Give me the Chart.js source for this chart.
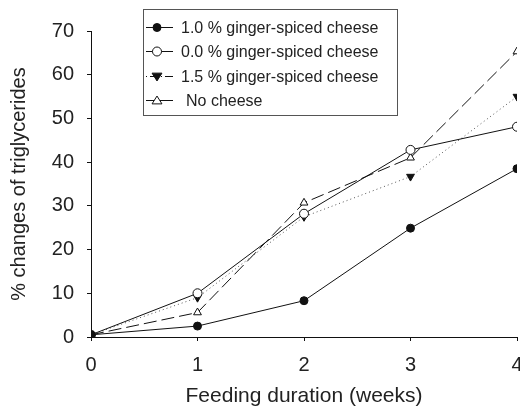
<!DOCTYPE html>
<html>
<head>
<meta charset="utf-8">
<script src="https://cdn.jsdelivr.net/npm/chart.js@4"></script>
<style>
  html, body { margin: 0; padding: 0; background: #fff; }
  #wrap { width: 520px; height: 409px; }
</style>
</head>
<body>
<div id="wrap"><canvas id="grafico" width="520" height="409"></canvas></div>
<script>
// weeks on the x axis
const weeks = [0, 1, 2, 3, 4];
const xTicks = [0, 1, 2, 3, 4];
const yTicks = [0, 10, 20, 30, 40, 50, 60, 70];

// % changes of triglycerides
const ginger10 = [0.5, 2.5, 8.3, 24.9, 38.5];
const ginger00 = [0.5, 10.0, 28.2, 42.8, 48.1];
const ginger15 = [0.5, 9.0, 27.5, 36.7, 55.0];
const noCheese = [0.5, 5.6, 30.7, 41.0, 65.3];

const labels = ['1.0 % ginger-spiced cheese', '0.0 % ginger-spiced cheese', '1.5 % ginger-spiced cheese', 'No cheese'];

const fontFam = '"Liberation Sans", Arial, sans-serif';

function pts(values) {
    return weeks.map((w, i) => ({ x: w, y: values[i] }));
}

// marker drawn by hand for the legend box
function drawMarker(ctx, ds, x, y) {
    const r = ds.pointRadius;
    ctx.setLineDash([]);
    ctx.fillStyle = ds.pointBackgroundColor;
    ctx.strokeStyle = '#111';
    ctx.lineWidth = 1;
    ctx.beginPath();
    if (ds.pointStyle === 'circle') {
        ctx.arc(x, y, r, 0, Math.PI * 2);
    } else {
        const dir = ds.pointRotation === 180 ? -1 : 1;
        const h = r * 1.5;
        ctx.moveTo(x, y - dir * h * 0.66);
        ctx.lineTo(x + r * 1.1, y + dir * h * 0.5);
        ctx.lineTo(x - r * 1.1, y + dir * h * 0.5);
        ctx.closePath();
    }
    ctx.fill();
    ctx.stroke();
}

const legendBox = {
    id: 'legendBox',
    afterDraw(chart) {
        const ctx = chart.ctx;
        ctx.save();
        ctx.strokeStyle = '#555';
        ctx.lineWidth = 1;
        ctx.setLineDash([]);
        ctx.strokeRect(143.5, 9.5, 254, 106);
        ctx.font = '16px ' + fontFam;
        ctx.textBaseline = 'middle';
        chart.data.datasets.forEach((ds, i) => {
            const y = Math.round(27 + i * 24.4) + 0.5;
            ctx.strokeStyle = '#111';
            ctx.lineWidth = 1;
            ctx.setLineDash(ds.legendDash || []);
            ctx.beginPath();
            ctx.moveTo(146, y);
            ctx.lineTo(173, y);
            ctx.stroke();
            drawMarker(ctx, ds, 157, y);
            ctx.fillStyle = '#222';
            ctx.fillText(ds.label, i === 3 ? 186 : 181, y + 1);
        });
        ctx.restore();
    }
};

const ctx = document.getElementById('grafico').getContext('2d');
new Chart(ctx, {
    type: 'line',
    data: {
        datasets: [{
            label: labels[0],
            data: pts(ginger10),
            borderColor: '#111',
            borderWidth: 1,
            pointStyle: 'circle',
            pointRadius: 4,
            pointBackgroundColor: '#111',
            pointBorderColor: '#111',
            tension: 0
        }, {
            label: labels[1],
            data: pts(ginger00),
            borderColor: '#111',
            borderWidth: 1,
            pointStyle: 'circle',
            pointRadius: 4.5,
            pointBackgroundColor: '#fff',
            pointBorderColor: '#111',
            tension: 0
        }, {
            label: labels[2],
            data: pts(ginger15),
            borderColor: '#555',
            borderWidth: 1,
            borderDash: [1, 3],
            legendDash: [1, 3, 8, 3],
            pointStyle: 'triangle',
            pointRotation: 180,
            pointRadius: 4.5,
            pointBackgroundColor: '#111',
            pointBorderColor: '#111',
            tension: 0
        }, {
            label: labels[3],
            data: pts(noCheese),
            borderColor: '#111',
            borderWidth: 1,
            borderDash: [13, 5],
            legendDash: [],
            pointStyle: 'triangle',
            pointRadius: 4.5,
            pointBackgroundColor: '#fff',
            pointBorderColor: '#111',
            tension: 0
        }]
    },
    options: {
        responsive: false,
        animation: false,
        layout: { autoPadding: false, padding: { top: 31, right: 3, left: 0, bottom: 0 } },
        plugins: {
            legend: { display: false },
            tooltip: { enabled: false }
        },
        scales: {
            x: {
                type: 'linear',
                min: 0,
                max: 4,
                afterFit(s) {
                    s.height = 72;
                    // let the last label run past the edge, as in the figure
                    s.paddingLeft = 0;
                    s.paddingRight = 0;
                },
                afterBuildTicks(s) { s.ticks = xTicks.map(v => ({ value: v })); },
                grid: { drawOnChartArea: false, drawTicks: true, tickLength: 4, color: '#111' },
                border: { display: true, color: '#111', width: 1 },
                ticks: {
                    color: '#222',
                    padding: 12,
                    font: { family: fontFam, size: 20 }
                },
                title: {
                    display: true,
                    text: 'Feeding duration (weeks)',
                    color: '#222',
                    padding: { top: 0, bottom: 0 },
                    font: { family: fontFam, size: 21 }
                }
            },
            y: {
                min: 0,
                max: 70,
                afterFit(s) {
                    s.width = 91;
                    s.paddingTop = 0;
                    s.paddingBottom = 0;
                },
                afterBuildTicks(s) { s.ticks = yTicks.map(v => ({ value: v })); },
                grid: { drawOnChartArea: false, drawTicks: true, tickLength: 4, color: '#111' },
                border: { display: true, color: '#111', width: 1 },
                ticks: {
                    color: '#222',
                    padding: 13,
                    font: { family: fontFam, size: 20 }
                },
                title: {
                    display: true,
                    text: '% changes of triglycerides',
                    color: '#222',
                    padding: { top: 7, bottom: 0 },
                    font: { family: fontFam, size: 20 }
                }
            }
        }
    },
    plugins: [legendBox]
});
</script>
</body>
</html>
